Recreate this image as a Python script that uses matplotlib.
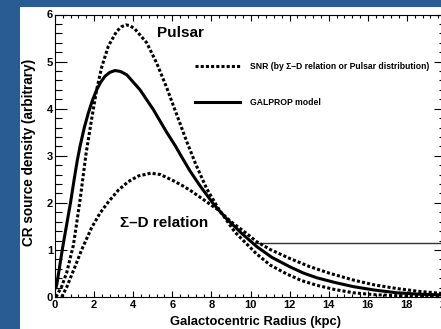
import matplotlib
matplotlib.use('Agg')
import matplotlib.pyplot as plt
from matplotlib.patches import Rectangle
from matplotlib.ticker import MultipleLocator

plt.rcParams['font.family'] = ['Liberation Sans', 'DejaVu Sans']
plt.rcParams['font.weight'] = 'bold'

# GALPROP source distribution (solid)
galprop_r = [0.05, 0.09, 0.39, 0.8, 1.0, 1.14, 1.28, 1.5, 1.7, 1.9, 2.13, 2.35,
             2.56, 2.8, 3.07, 3.35, 3.67, 4.35, 5.03, 5.71, 6.14, 6.39, 6.9, 7.42,
             8.1, 8.35, 8.78, 9.5, 10.32, 11.1, 12.02, 12.7, 13.38, 14.3, 15.26,
             16.3, 17.48, 18.6, 19.7, 20.3]
galprop_q = [0.2, 0.26, 1.05, 2.02, 2.55, 2.9, 3.2, 3.6, 3.9, 4.16, 4.4, 4.57,
             4.69, 4.77, 4.81, 4.79, 4.72, 4.4, 3.98, 3.5, 3.22, 3.04, 2.68, 2.36,
             1.98, 1.86, 1.66, 1.37, 1.07, 0.84, 0.64, 0.51, 0.41, 0.31, 0.22,
             0.15, 0.09, 0.06, 0.045, 0.04]

# SNR distribution following the pulsar profile (dotted)
pulsar_r = [0.05, 0.34, 0.6, 0.94, 1.12, 1.31, 1.59, 1.87, 2.13, 2.38, 2.73, 3.15,
            3.4, 3.63, 3.85, 4.09, 4.69, 5.2, 5.71, 6.22, 6.74, 7.2, 7.76, 8.4,
            9.2, 10.3, 11.0, 11.85, 12.6, 13.38, 14.3, 15.26, 16.3, 17.5, 18.6,
            19.7, 20.3]
pulsar_q = [0.0, 0.22, 0.52, 1.1, 1.6, 2.15, 3.05, 3.77, 4.4, 4.87, 5.33, 5.64,
            5.74, 5.78, 5.76, 5.69, 5.4, 4.97, 4.45, 3.88, 3.3, 2.82, 2.3, 1.85,
            1.38, 0.92, 0.68, 0.49, 0.35, 0.25, 0.16, 0.09, 0.05, 0.03, 0.015,
            0.01, 0.005]

# SNR distribution from the Sigma-D relation (dotted)
sigmad_r = [0.34, 0.6, 1.0, 1.36, 1.87, 2.3, 2.73, 3.24, 3.75, 4.26, 4.9, 5.4,
            6.05, 6.5, 6.9, 7.42, 8.1, 8.35, 9.0, 9.8, 10.3, 11.0, 12.0, 13.0,
            14.0, 15.26, 16.3, 17.48, 18.6, 19.69, 20.3]
sigmad_q = [0.0, 0.21, 0.62, 1.0, 1.47, 1.78, 2.02, 2.27, 2.45, 2.57, 2.63, 2.6,
            2.47, 2.37, 2.27, 2.12, 1.92, 1.85, 1.6, 1.35, 1.18, 1.01, 0.82, 0.65,
            0.51, 0.36, 0.26, 0.18, 0.12, 0.08, 0.06]

# stray horizontal line on the right
hline_y = 1.15
hline_x = [10.2, 20.5]

W, H = 441, 329
fig = plt.figure(figsize=(W / 100, H / 100), dpi=100)
fig.patch.set_facecolor('#2a5c94')
panel = Rectangle((20 / W, 0), 1, 1 - 7 / H, transform=fig.transFigure,
                  facecolor='white', edgecolor='none', zorder=-5)
fig.add_artist(panel)

ax = fig.add_axes([55 / W, 32 / H, 391 / W, 282.5 / H])
ax.set_zorder(1)
ax.set_facecolor('white')

dots = (0, (1, 0.7))
ax.hlines(hline_y, hline_x[0], hline_x[1], color='#333333', lw=1.0, zorder=1)
ax.plot(pulsar_r, pulsar_q, color='black', lw=2.2, linestyle=dots,
        dash_capstyle='butt', label='SNR (by \u03a3\u2013D relation or Pulsar distribution)')
ax.plot(sigmad_r, sigmad_q, color='black', lw=2.2, linestyle=dots, dash_capstyle='butt')
ax.plot(galprop_r, galprop_q, color='black', lw=2.2, label='GALPROP model')

ax.set_xlim(0, 20)
ax.set_ylim(0, 6)
ax.xaxis.set_major_locator(MultipleLocator(2))
ax.xaxis.set_minor_locator(MultipleLocator(0.4))
ax.yaxis.set_major_locator(MultipleLocator(1))
ax.yaxis.set_minor_locator(MultipleLocator(0.2))
ax.tick_params(axis='x', which='both', direction='in', top=True, labelsize=8, pad=2, width=0.8)
ax.tick_params(axis='x', which='major', length=4.3)
ax.tick_params(axis='x', which='minor', length=2.2)
ax.tick_params(axis='y', which='both', direction='in', right=True, labelsize=8, pad=1.5, width=0.8)
ax.tick_params(axis='y', which='major', length=8.6)
ax.tick_params(axis='y', which='minor', length=5)
for lab in ax.get_xticklabels() + ax.get_yticklabels():
    lab.set_fontweight('bold')
for sp in ax.spines.values():
    sp.set_linewidth(0.8)

ax.set_xlabel('Galactocentric Radius (kpc)', fontsize=9.4, fontweight='bold')
ax.set_ylabel('CR source density (arbitrary)', fontsize=9.8, fontweight='bold')
ax.xaxis.set_label_coords((256 - 55) / 391, -(316 - 297) / 282.5)
ax.yaxis.set_label_coords(-(55 - 36) / 391, (297 - 152.5) / 282.5)

ax.text(5.22, 5.53, 'Pulsar', fontsize=11, fontweight='bold', va='baseline')
ax.text(3.32, 1.49, '\u03a3\u2013D relation', fontsize=11, fontweight='bold', va='baseline')

ax.legend(loc='upper left', bbox_to_anchor=((195 - 55) / 391, (297 - 62) / 282.5),
          frameon=False, borderaxespad=0, borderpad=0, handlelength=5.2,
          handletextpad=1.16, labelspacing=3.1,
          prop={'family': ['Liberation Sans', 'DejaVu Sans'], 'weight': 'bold', 'size': 6.2})

fig.savefig('out.png', dpi=100, facecolor=fig.get_facecolor())
